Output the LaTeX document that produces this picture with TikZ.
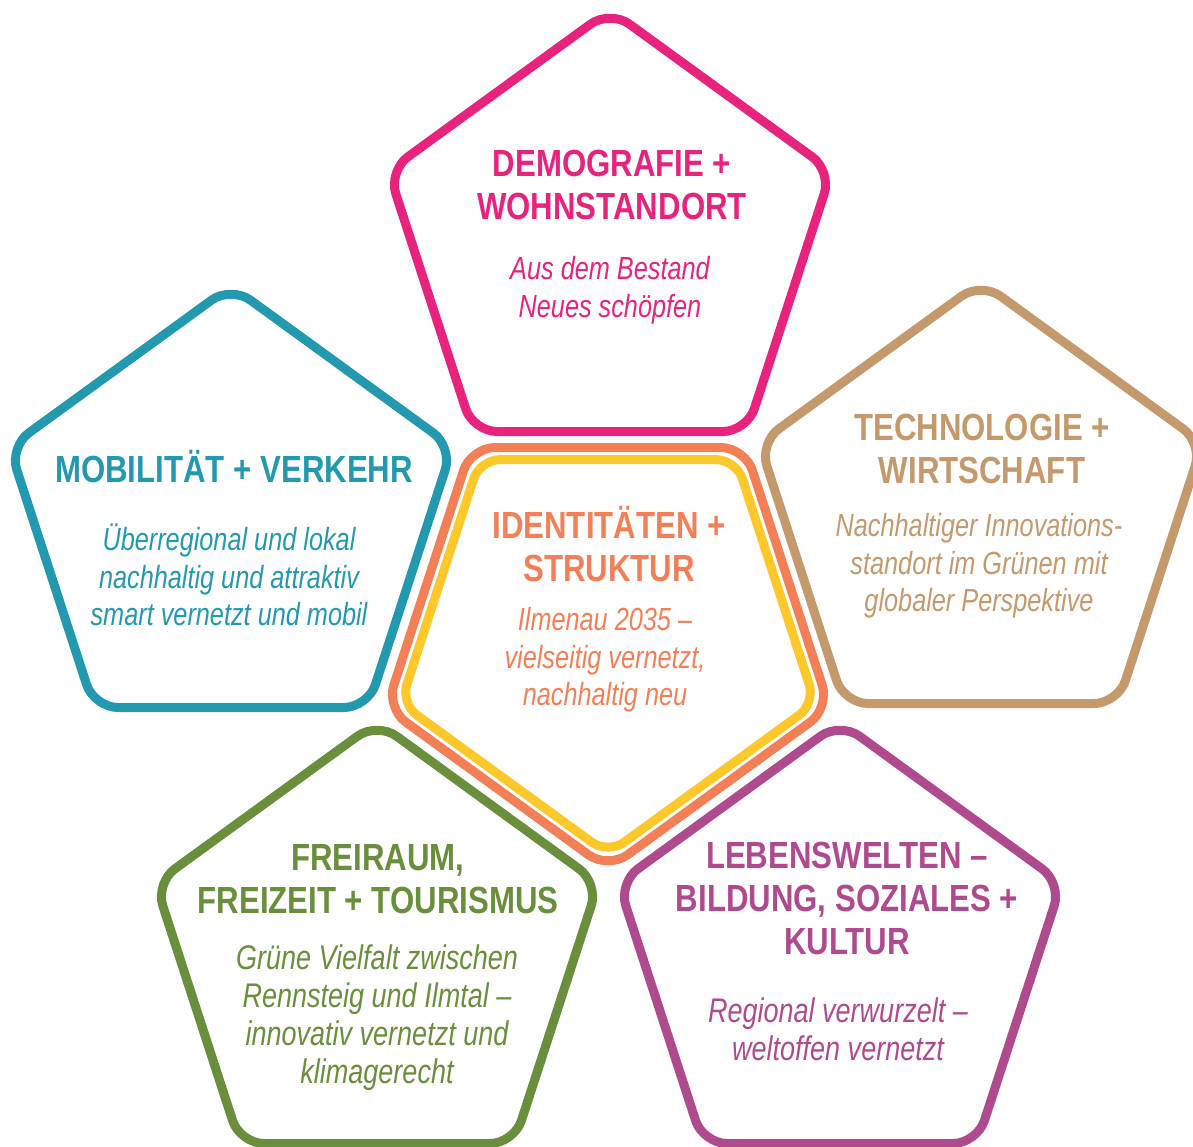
\documentclass[tikz,border=0pt]{standalone}
\usepackage{fontspec}
\setmainfont[FakeStretch=0.79, BoldFeatures={FakeStretch=0.825}]{Liberation Sans}
\definecolor{ilpink}{RGB}{232,35,125}
\definecolor{ilteal}{RGB}{35,153,176}
\definecolor{iltan}{RGB}{196,154,108}
\definecolor{ilorange}{RGB}{243,127,87}
\definecolor{ilyellow}{RGB}{253,200,42}
\definecolor{ilgreen}{RGB}{106,143,60}
\definecolor{ilpurple}{RGB}{176,74,142}
\usetikzlibrary{shapes.geometric}

\begin{document}
\begin{tikzpicture}[
  x=0.5pt, y=-0.5pt,
  penta/.style={regular polygon, regular polygon sides=5, minimum size=233pt,
                inner sep=0pt, line width=4.5pt, rounded corners=12pt},
  head/.style={font=\fontsize{18.9}{21.5}\selectfont\bfseries, align=center},
  sub/.style={font=\fontsize{16}{18.8}\selectfont\itshape, align=center},
  bigsub/.style={font=\fontsize{17.1}{19}\selectfont\itshape, align=center}
]
\useasboundingbox (0,0) rectangle (1193,1146);

% Center node
\node[penta, shape border rotate=180, draw=ilorange] (core) at (608,636) {};
\node[penta, shape border rotate=180, minimum size=218pt, rounded corners=10pt,
      draw=ilyellow] (coreinner) at (core) {};

% Spoke pentagons
\node[penta, draw=ilpink]   (demo)  at (610,243) {};
\node[penta, draw=ilteal]   (mobil) at (231,519) {};
\node[penta, draw=iltan]    (tech)  at (981,515) {};
\node[penta, draw=ilgreen]  (frei)  at (377,955) {};
\node[penta, draw=ilpurple] (leben) at (840,955) {};

% Texts
\node[head, text=ilpink] (demohead) at (612,185) {DEMOGRAFIE +\\WOHNSTANDORT};
\node[sub,  text=ilpink] (demosub)  at (610,290) {Aus dem Bestand\\Neues schöpfen};

\node[head, text=ilteal] (mobilhead) at (234,467) {MOBILITÄT + VERKEHR};
\node[sub,  text=ilteal] (mobilsub)  at (229,575)
  {Überregional und lokal\\nachhaltig und attraktiv\\smart vernetzt und mobil};

\node[head, text=iltan] (techhead) at (982,449) {TECHNOLOGIE +\\WIRTSCHAFT};
\node[sub,  text=iltan] (techsub)  at (979,566)
  {Nachhaltiger Innovations-\\standort im Grünen mit\\globaler Perspektive};

\node[head, text=ilorange] (corehead) at (609,544) {IDENTITÄTEN +\\STRUKTUR};
\node[sub,  text=ilorange] (coresub)  at (605,660)
  {Ilmenau 2035 --\\vielseitig vernetzt,\\nachhaltig neu};

\node[head, text=ilgreen] (freihead) at (378,879) {FREIRAUM,\\FREIZEIT + TOURISMUS};
\node[bigsub, text=ilgreen] (freisub) at (377,1018)
  {Grüne Vielfalt zwischen\\Rennsteig und Ilmtal --\\innovativ vernetzt und\\klimagerecht};

\node[head, text=ilpurple] (lebenhead) at (847,898) {LEBENSWELTEN --\\BILDUNG, SOZIALES +\\KULTUR};
\node[bigsub, text=ilpurple] (lebensub) at (838,1029) {Regional verwurzelt --\\weltoffen vernetzt};
\end{tikzpicture}
\end{document}
